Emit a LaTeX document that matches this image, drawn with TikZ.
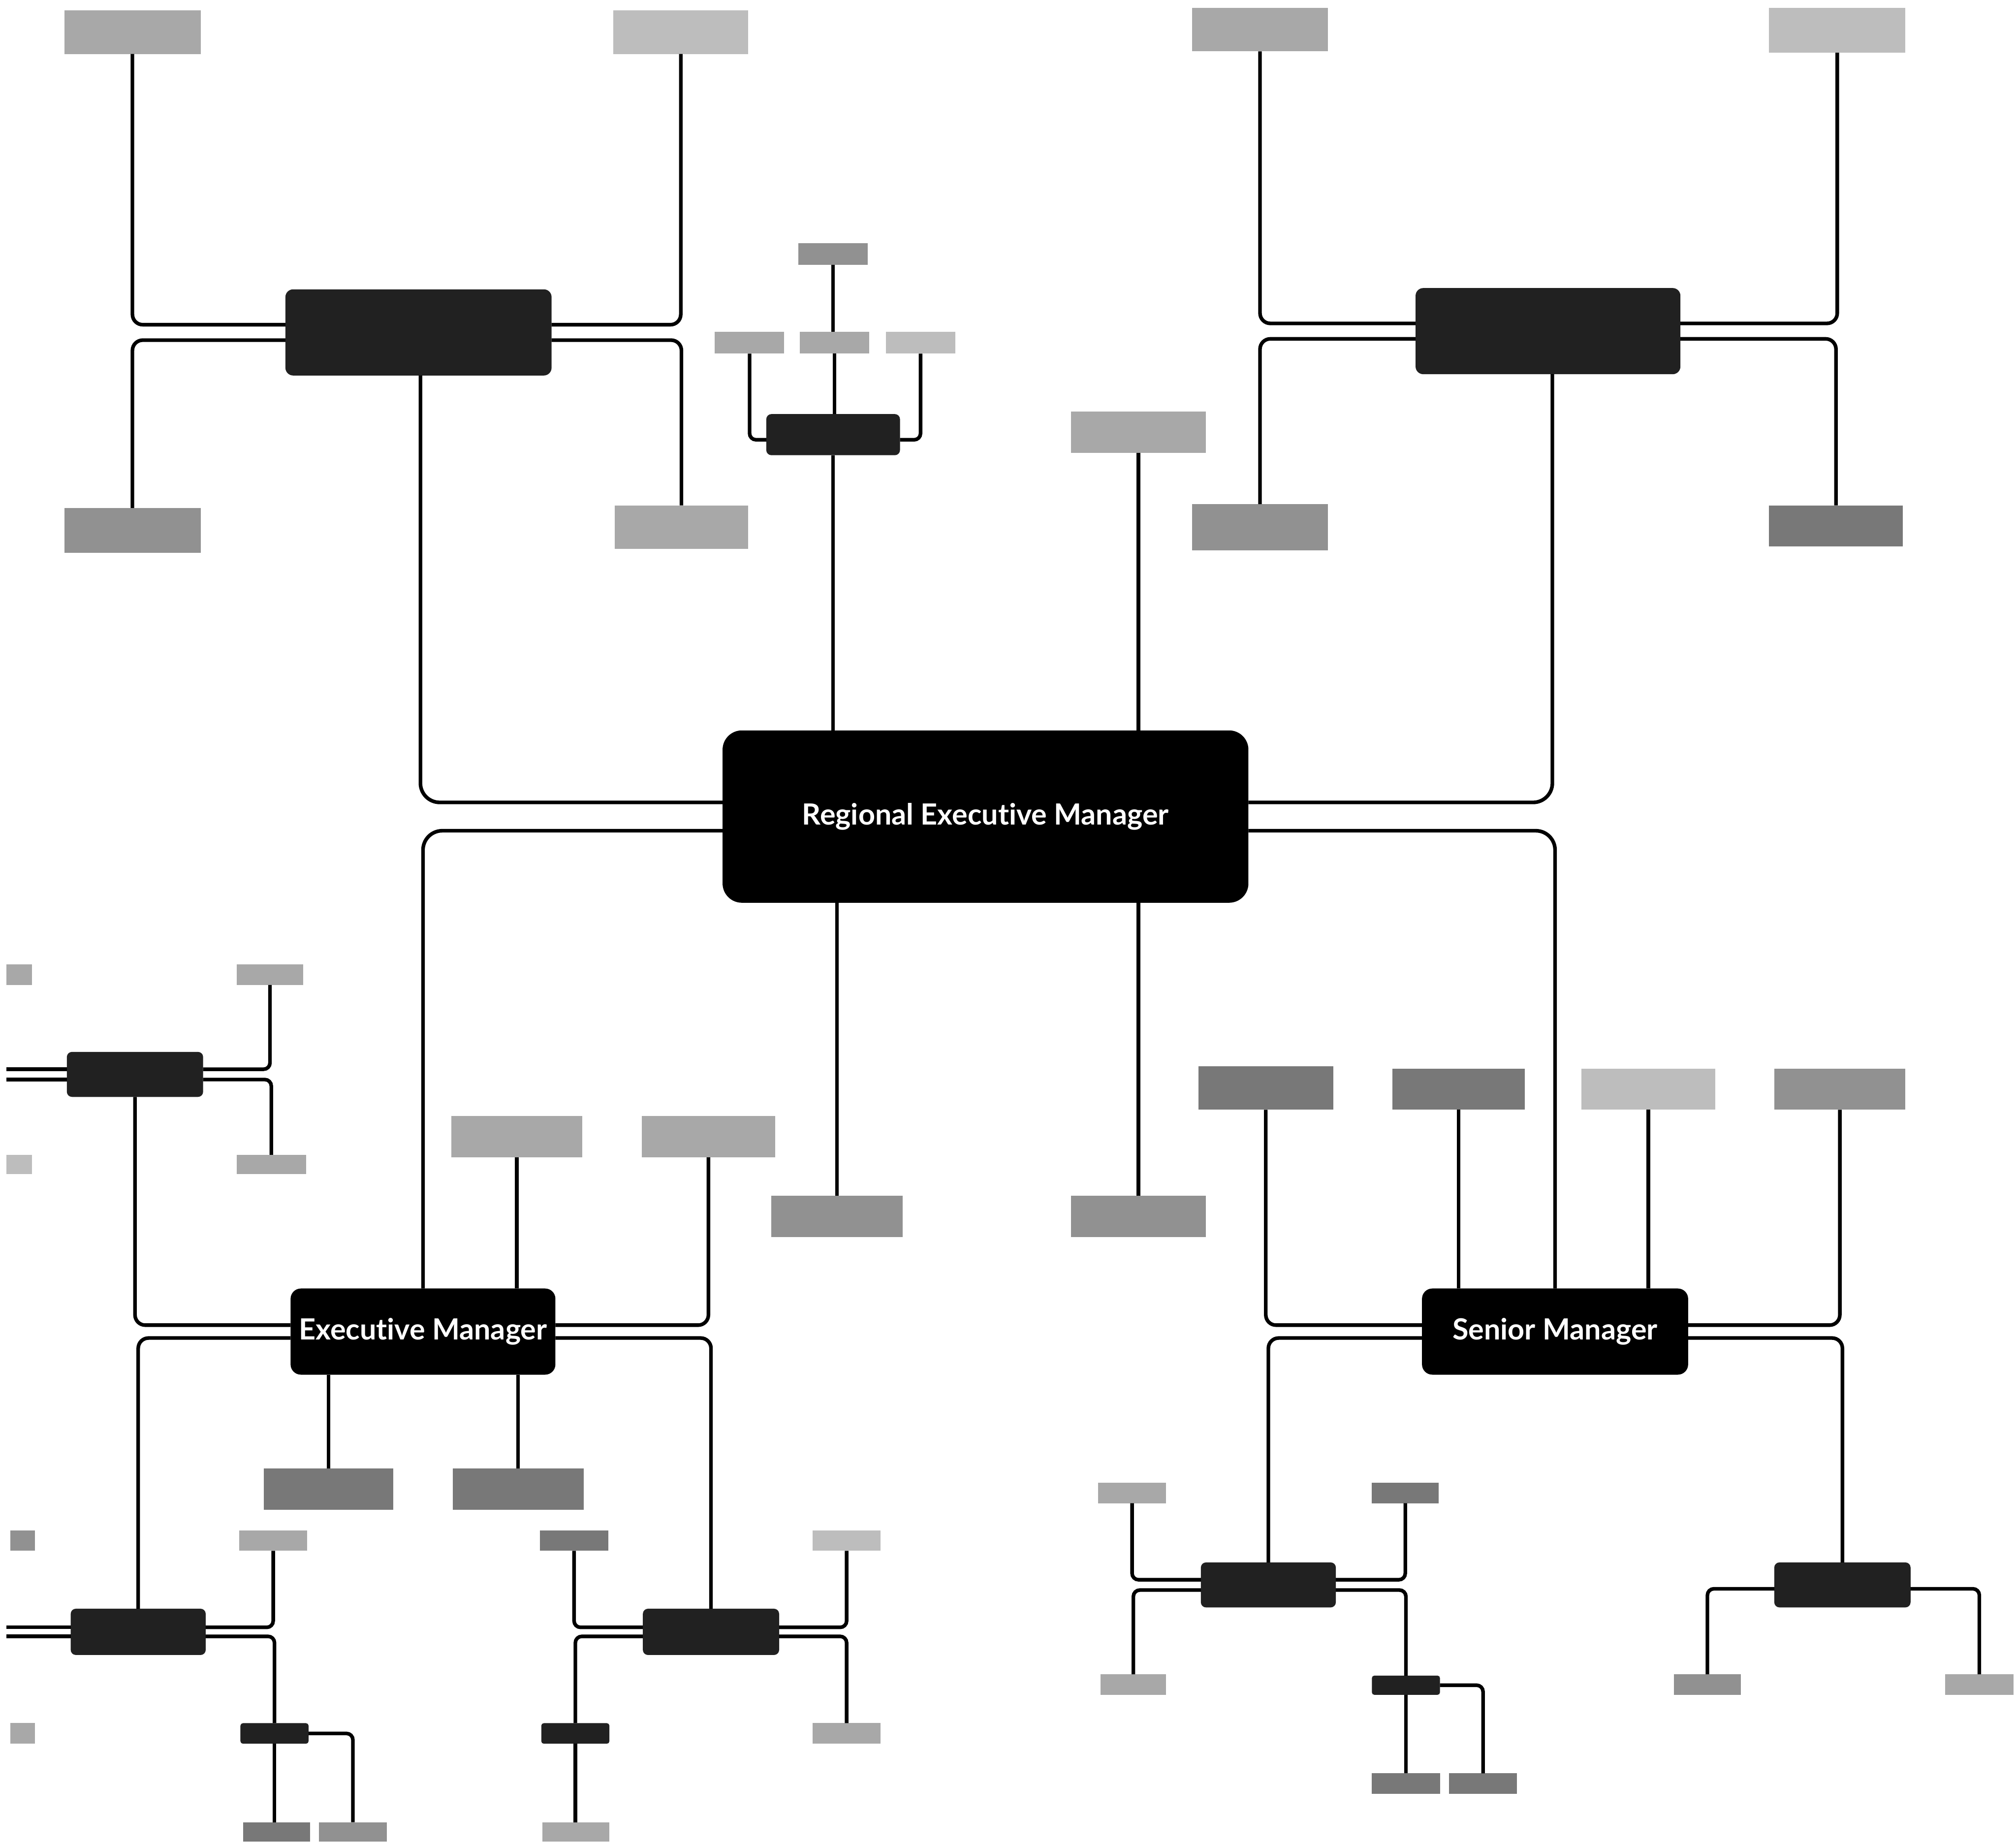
\documentclass[tikz,border=0pt]{standalone}
\usepackage{fontspec}
\newfontfamily\lato{Lato}[Ligatures={NoCommon,NoContextual}]
\definecolor{dk}{gray}{0.13}
\definecolor{ga}{gray}{0.74}
\definecolor{gb}{gray}{0.66}
\definecolor{gc}{gray}{0.57}
\definecolor{gd}{gray}{0.47}
\newcommand\pbox[7]{\node[#6, minimum width={(#4-#2)*0.01cm}, minimum height={(#5-#3)*0.01cm}] (#1) at ({(#2+#4)/2},{(#3+#5)/2}) {#7};}
\begin{document}
\begin{tikzpicture}[x=0.01cm, y=-0.01cm,
  box/.style={inner sep=0pt, outer sep=0pt},
  la/.style={box, fill=ga}, lb/.style={box, fill=gb}, lc/.style={box, fill=gc}, ld/.style={box, fill=gd},
  dkbox/.style={box, fill=dk, rounded corners=0.06cm},
  dktiny/.style={box, fill=dk, rounded corners=0.02cm},
  mainbox/.style={box, fill=black, text=white, font=\lato\bfseries\fontsize{6.45}{7.5}\selectfont},
  conn/.style={line width=0.8pt},
  r1/.style={conn, rounded corners=0.15cm},
  r2/.style={conn, rounded corners=0.08cm},
  r3/.style={conn, rounded corners=0.05cm}]
\useasboundingbox (0,0) rectangle (1568,1436);
\coordinate (edgeL) at (5,0);

% ---------- main nodes ----------
\pbox{rem}{562}{568}{971}{702}{mainbox, rounded corners=0.15cm}{Regional Executive Manager}
\pbox{em}{226}{1002}{432}{1069}{mainbox, rounded corners=0.08cm}{Executive Manager}
\pbox{sm}{1106}{1002}{1313}{1069}{mainbox, rounded corners=0.08cm}{Senior Manager}

% ---------- top-left cluster ----------
\pbox{tl}{222}{225}{429}{292}{dkbox}{}
\pbox{tlA}{50}{8}{156}{42}{lb}{}
\pbox{tlB}{477}{8}{582}{42}{la}{}
\pbox{tlC}{50}{395}{156}{430}{lc}{}
\pbox{tlD}{478}{393}{582}{427}{lb}{}
\draw[r2] ([yshift=0.06cm]tl.west) -| (tlA.south);
\draw[r2] ([yshift=-0.06cm]tl.west) -| (tlC.north);
\draw[r2] ([yshift=0.06cm]tl.east) -| (tlB.south);
\draw[r2] ([yshift=-0.06cm]tl.east) -| (tlD.north);

% ---------- top-right cluster ----------
\pbox{tr}{1101}{224}{1307}{291}{dkbox}{}
\pbox{trA}{927}{6}{1033}{40}{lb}{}
\pbox{trB}{1376}{6}{1482}{41}{la}{}
\pbox{trC}{927}{392}{1033}{428}{lc}{}
\pbox{trD}{1376}{393}{1480}{425}{ld}{}
\draw[r2] ([yshift=0.06cm]tr.west) -| (trA.south);
\draw[r2] ([yshift=-0.06cm]tr.west) -| (trC.north);
\draw[r2] ([yshift=0.06cm]tr.east) -| (trB.south);
\draw[r2] ([yshift=-0.06cm]tr.east) -| (trD.north);

% ---------- top small cluster ----------
\pbox{ts}{596}{322}{700}{354}{dkbox, rounded corners=0.04cm}{}
\pbox{tsT}{621}{189}{675}{206}{lc}{}
\pbox{tsL}{556}{258}{610}{275}{lb}{}
\pbox{tsM}{622}{258}{676}{275}{lb}{}
\pbox{tsR}{689}{258}{743}{275}{la}{}
\draw[conn] (tsT.south) -- (tsT.south |- tsM.north);
\draw[conn] (tsM.south) -- (tsM.south |- ts.north);
\draw[r3] ([yshift=-0.04cm]ts.west) -| (tsL.south);
\draw[r3] ([yshift=-0.04cm]ts.east) -| (tsR.south);

% ---------- boxes around the main node ----------
\pbox{rA}{833}{320}{938}{352}{lb}{}
\pbox{bA}{600}{930}{702}{962}{lc}{}
\pbox{bB}{833}{930}{938}{962}{lc}{}

% ---------- main connectors ----------
\draw[conn] (ts.south) -- (ts.south |- rem.north);
\draw[conn] (rA.south) -- (rA.south |- rem.north);
\draw[conn] (bA.north) -- (bA.north |- rem.south);
\draw[conn] (bB.north) -- (bB.north |- rem.south);
\draw[r1] ([yshift=0.11cm]rem.west) -| ([xshift=0.015cm]tl.south);
\draw[r1] ([yshift=-0.11cm]rem.west) -| (em.north);
\draw[r1] ([yshift=0.11cm]rem.east) -| ([xshift=0.034cm]tr.south);
\draw[r1] ([yshift=-0.11cm]rem.east) -| (sm.north);

% ---------- executive manager cluster ----------
\pbox{emT1}{351}{868}{453}{900}{lb}{}
\pbox{emT2}{499}{868}{603}{900}{lb}{}
\pbox{emB1}{205}{1142}{306}{1174}{ld}{}
\pbox{emB2}{352}{1142}{454}{1174}{ld}{}
\pbox{d1}{52}{818}{158}{853}{dkbox, rounded corners=0.04cm}{}
\pbox{d2}{55}{1251}{160}{1287}{dkbox, rounded corners=0.04cm}{}
\pbox{d3}{500}{1251}{606}{1287}{dkbox, rounded corners=0.04cm}{}
\draw[conn] (emT1.south) -- (emT1.south |- em.north);
\draw[conn] (emB1.north) -- (emB1.north |- em.south);
\draw[conn] (emB2.north) -- (emB2.north |- em.south);
\draw[r2] ([yshift=0.05cm]em.west) -| (d1.south);
\draw[r2] ([yshift=-0.05cm]em.west) -| (d2.north);
\draw[r2] ([yshift=0.05cm]em.east) -| (emT2.south);
\draw[r2] ([yshift=-0.05cm]em.east) -| (d3.north);

% d1
\pbox{d1A}{184}{750}{236}{766}{lb}{}
\pbox{d1B}{184}{898}{238}{913}{lb}{}
\pbox{d1L1}{5}{750}{25}{766}{lb}{}
\pbox{d1L2}{5}{898}{25}{913}{la}{}
\draw[r3] ([yshift=0.04cm]d1.east) -| (d1A.south);
\draw[r3] ([yshift=-0.04cm]d1.east) -| (d1B.north);
\coordinate (d1w1) at ([yshift=0.04cm]d1.west);
\coordinate (d1w2) at ([yshift=-0.04cm]d1.west);
\draw[conn] (d1w1) -- (d1w1 -| edgeL);
\draw[conn] (d1w2) -- (d1w2 -| edgeL);

% d2
\pbox{d2A}{186}{1190}{239}{1206}{lb}{}
\pbox{d2B}{187}{1340}{240}{1356}{dktiny}{}
\pbox{d2L1}{8}{1190}{27}{1206}{lc}{}
\pbox{d2L2}{8}{1340}{27}{1356}{lb}{}
\pbox{d2B1}{189}{1417}{241}{1432}{ld}{}
\pbox{d2B2}{248}{1417}{301}{1432}{lc}{}
\draw[r3] ([yshift=0.035cm]d2.east) -| (d2A.south);
\draw[r3] ([yshift=-0.035cm]d2.east) -| (d2B.north);
\coordinate (d2w1) at ([yshift=0.035cm]d2.west);
\coordinate (d2w2) at ([yshift=-0.035cm]d2.west);
\draw[conn] (d2w1) -- (d2w1 -| edgeL);
\draw[conn] (d2w2) -- (d2w2 -| edgeL);
\draw[conn] (d2B.south) -- (d2B.south |- d2B1.north);
\draw[r3] (d2B.east) -| (d2B2.north);

% d3
\pbox{d3A}{420}{1190}{473}{1206}{ld}{}
\pbox{d3B}{421}{1340}{474}{1356}{dktiny}{}
\pbox{d3B1}{422}{1417}{474}{1432}{lb}{}
\pbox{d3C}{632}{1190}{685}{1206}{la}{}
\pbox{d3D}{632}{1340}{685}{1356}{lb}{}
\draw[r3] ([yshift=0.035cm]d3.west) -| (d3A.south);
\draw[r3] ([yshift=-0.035cm]d3.west) -| (d3B.north);
\draw[conn] (d3B.south) -- (d3B.south |- d3B1.north);
\draw[r3] ([yshift=0.035cm]d3.east) -| (d3C.south);
\draw[r3] ([yshift=-0.035cm]d3.east) -| (d3D.north);

% ---------- senior manager cluster ----------
\pbox{smT1}{1083}{831}{1186}{863}{ld}{}
\pbox{smT2}{1230}{831}{1334}{863}{la}{}
\pbox{smA}{932}{829}{1037}{863}{ld}{}
\pbox{smB}{1380}{831}{1482}{863}{lc}{}
\pbox{s1}{934}{1215}{1039}{1250}{dkbox, rounded corners=0.04cm}{}
\pbox{s2}{1380}{1215}{1486}{1250}{dkbox, rounded corners=0.04cm}{}
\draw[conn] (smT1.south) -- (smT1.south |- sm.north);
\draw[conn] (smT2.south) -- (smT2.south |- sm.north);
\draw[r2] ([yshift=0.05cm]sm.west) -| (smA.south);
\draw[r2] ([yshift=-0.05cm]sm.west) -| (s1.north);
\draw[r2] ([yshift=0.05cm]sm.east) -| (smB.south);
\draw[r2] ([yshift=-0.05cm]sm.east) -| (s2.north);

% s1
\pbox{s1A}{854}{1153}{907}{1169}{lb}{}
\pbox{s1B}{856}{1302}{907}{1318}{lb}{}
\pbox{s1C}{1067}{1153}{1119}{1169}{ld}{}
\pbox{s1D}{1067}{1303}{1120}{1318}{dktiny}{}
\pbox{s1D1}{1067}{1379}{1120}{1395}{ld}{}
\pbox{s1D2}{1127}{1379}{1180}{1395}{ld}{}
\draw[r3] ([yshift=0.04cm]s1.west) -| (s1A.south);
\draw[r3] ([yshift=-0.04cm]s1.west) -| (s1B.north);
\draw[r3] ([yshift=0.04cm]s1.east) -| (s1C.south);
\draw[r3] ([yshift=-0.04cm]s1.east) -| (s1D.north);
\draw[conn] (s1D.south) -- (s1D.south |- s1D1.north);
\draw[r3] (s1D.east) -| (s1D2.north);

% s2
\pbox{s2A}{1302}{1302}{1354}{1318}{lc}{}
\pbox{s2B}{1513}{1302}{1566}{1318}{lb}{}
\draw[r3] ([yshift=-0.03cm]s2.west) -| (s2A.north);
\draw[r3] ([yshift=-0.03cm]s2.east) -| (s2B.north);
\end{tikzpicture}
\end{document}
